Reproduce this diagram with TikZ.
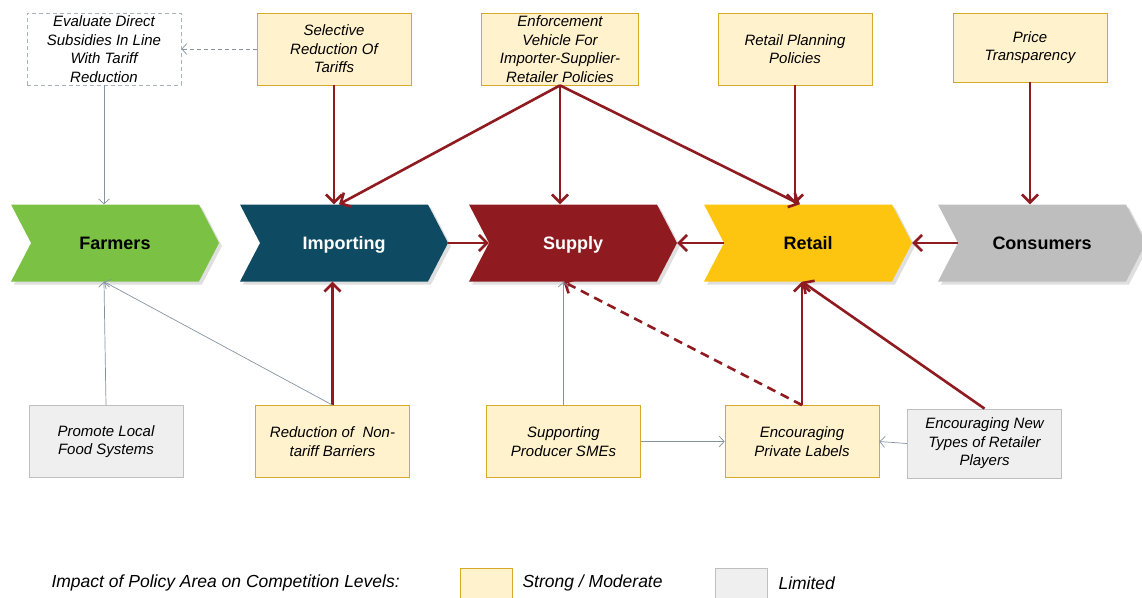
\documentclass[tikz,border=0pt]{standalone}
\usepackage{fontspec}
\setmainfont{Liberation Sans}
\usetikzlibrary{shapes.symbols,arrows.meta,shadows}

\definecolor{policyfill}{HTML}{FFF2CC}
\definecolor{policyline}{HTML}{D6A92B}
\definecolor{limitfill}{HTML}{EFEFEF}
\definecolor{limitline}{HTML}{BFBFBF}
\definecolor{impactred}{HTML}{8F1B21}
\definecolor{linkgray}{HTML}{8592A0}
\definecolor{farmgreen}{HTML}{7BC143}
\definecolor{importblue}{HTML}{0E4B63}
\definecolor{retailgold}{HTML}{FDC50F}
\definecolor{consumergray}{HTML}{BEBEBE}

\begin{document}
\begin{tikzpicture}[x=1pt, y=-1pt,
  stage/.style={shape=signal, signal from=west, signal to=east, signal pointer angle=125,
    minimum width=208pt, minimum height=77pt, inner sep=0pt, text height=13pt, text depth=0pt,
    font=\fontsize{18}{20}\selectfont\bfseries,
    drop shadow={shadow xshift=3pt, shadow yshift=-3pt, opacity=0.25}},
  policy/.style={draw=policyline, fill=policyfill, line width=0.8pt, minimum width=154pt,
    minimum height=72pt, inner sep=0pt, align=center,
    font=\fontsize{15}{18.5}\selectfont\itshape},
  limited/.style={policy, draw=limitline, fill=limitfill},
  strong/.style={draw=impactred, line width=2.6pt, -{Straight Barb[length=8pt, width=16pt]}},
  weak/.style={draw=linkgray, line width=0.7pt, -{Straight Barb[length=5pt, width=11pt]}},
  keytext/.style={anchor=west, font=\fontsize{17.5}{20}\selectfont\itshape}]
\useasboundingbox (0,0) rectangle (1142,597);

% Policy areas on top
\node[policy, draw=linkgray!70, fill=white, dash pattern=on 4pt off 3pt] (evaluate) at (104,49) {Evaluate Direct\\Subsidies In Line\\With Tariff\\Reduction};
\node[policy] (selective) at (334,49) {Selective\\Reduction Of\\Tariffs};
\node[policy, minimum width=157pt] (enforce) at (560,49) {Enforcement\\Vehicle For\\Importer-Supplier-\\Retailer Policies};
\node[policy] (planning) at (795,49) {Retail Planning\\Policies};
\node[policy, minimum height=69pt] (price) at (1030,47.5) {Price\\Transparency};

% The value chain
\node[stage, fill=farmgreen, text=black] (farmers) at (115,243) {Farmers};
\node[stage, fill=importblue, text=white] (importing) at (344,243) {Importing};
\node[stage, fill=impactred, text=white] (supply) at (573,243) {Supply};
\node[stage, fill=retailgold, text=black] (retail) at (808,243) {Retail};
\node[stage, fill=consumergray, text=black] (consumers) at (1042,243) {Consumers};

% Policy areas below
\node[limited] (promote) at (106,441.5) {Promote Local\\Food Systems};
\node[policy] (nontariff) at (332.5,441.5) {Reduction of~~Non-\\tariff Barriers};
\node[policy] (smes) at (563.5,441.5) {Supporting\\Producer SMEs};
\node[policy] (labels) at (802,441.5) {Encouraging\\Private Labels};
\node[limited, minimum height=69pt] (newtypes) at (984.5,443.5) {Encouraging New\\Types of Retailer\\Players};

% Entry points on the chain
\coordinate (farmersin) at (evaluate.south |- farmers.south);
\coordinate (supplyin) at (smes.north |- supply.south);
\coordinate (retailin) at (labels.north |- retail.south);

% Strong links
\draw[strong] (selective.south) -- (selective.south |- importing.north);
\draw[strong] (enforce.south) -- ([xshift=-5pt]importing.north);
\draw[strong] (enforce.south) -- (enforce.south |- supply.north);
\draw[strong] (enforce.south) -- ([xshift=-8pt]retail.north);
\draw[strong] (planning.south) -- (planning.south |- retail.north);
\draw[strong] (price.south) -- (price.south |- consumers.north);
\draw[strong] (importing.east) -- (supply.west);
\draw[strong] (retail.west) -- (supply.east);
\draw[strong] (consumers.west) -- (retail.east);
\draw[strong] (nontariff.north) -- (nontariff.north |- importing.south);
\draw[strong] (labels.north) -- (retailin);
\draw[strong] (newtypes.north) -- (retailin);
\draw[strong, dash pattern=on 9pt off 6pt] (labels.north) -- (supplyin);

% Limited links
\draw[weak, dash pattern=on 4pt off 3pt] (selective.west) -- (evaluate.east);
\draw[weak] (evaluate.south) -- (evaluate.south |- farmers.north);
\draw[weak] (promote.north) -- (farmersin);
\draw[weak] (nontariff.north) -- (farmersin);
\draw[weak] (smes.north) -- (supplyin);
\draw[weak] (smes.east) -- (labels.west);
\draw[weak] (newtypes.west) -- (labels.east);

% Legend
\node[keytext] (legend) at (48,583) {Impact of Policy Area on Competition Levels:};
\node[policy, minimum width=52pt, minimum height=34pt] (keystrong) at (486,585) {};
\node[keytext] (keystrongtext) at (519,583) {Strong / Moderate};
\node[limited, minimum width=52pt, minimum height=34pt] (keylimited) at (741,585) {};
\node[keytext] (keylimitedtext) at (775,583) {Limited};
\end{tikzpicture}
\end{document}
